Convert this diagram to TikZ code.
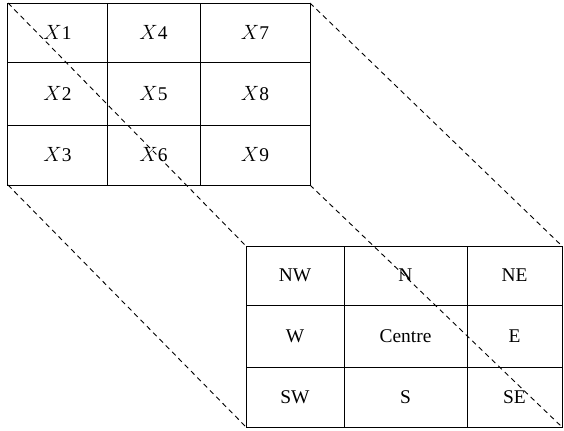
\documentclass[tikz,border=0pt]{standalone}
\usepackage{fontspec}
\setmainfont{Liberation Serif}
\begin{document}
\begin{tikzpicture}[x=1bp,y=-1bp,
  cell/.style={draw, line width=1bp, inner sep=0pt, outer sep=0pt,
    font=\fontsize{19.5}{22}\selectfont},
  link/.style={line width=0.9bp, dash pattern=on 5bp off 4bp}]
\useasboundingbox (0,0) rectangle (564,430);
% input window (left, top)
\newcommand\cellat[6]{\node[cell, minimum width=#4bp, minimum height=#5bp] (#1) at (#2,#3) {#6};}
\cellat{x1}{57.5}{32.5}{99}{59}{$X$1}
\cellat{x4}{153.5}{32.5}{93}{59}{$X$4}
\cellat{x7}{255}{32.5}{110}{59}{$X$7}
\cellat{x2}{57.5}{93.5}{99}{63}{$X$2}
\cellat{x5}{153.5}{93.5}{93}{63}{$X$5}
\cellat{x8}{255}{93.5}{110}{63}{$X$8}
\cellat{x3}{57.5}{155}{99}{60}{$X$3}
\cellat{x6}{153.5}{155}{93}{60}{$X$6}
\cellat{x9}{255}{155}{110}{60}{$X$9}
% neighbourhood window (right, bottom)
\cellat{nw}{295}{275.5}{98}{59}{NW}
\cellat{n}{405.5}{275.5}{123}{59}{N}
\cellat{ne}{514.5}{275.5}{95}{59}{NE}
\cellat{w}{295}{336}{98}{62}{W}
\cellat{c}{405.5}{336}{123}{62}{Centre}
\cellat{e}{514.5}{336}{95}{62}{E}
\cellat{sw}{295}{397}{98}{60}{SW}
\cellat{s}{405.5}{397}{123}{60}{S}
\cellat{se}{514.5}{397}{95}{60}{SE}
% projection lines between matching corners
\draw[link] (x1.north west) -- (nw.north west);
\draw[link] (x7.north east) -- (ne.north east);
\draw[link] (x3.south west) -- (sw.south west);
\draw[link] (x9.south east) -- (se.south east);
\end{tikzpicture}
\end{document}
